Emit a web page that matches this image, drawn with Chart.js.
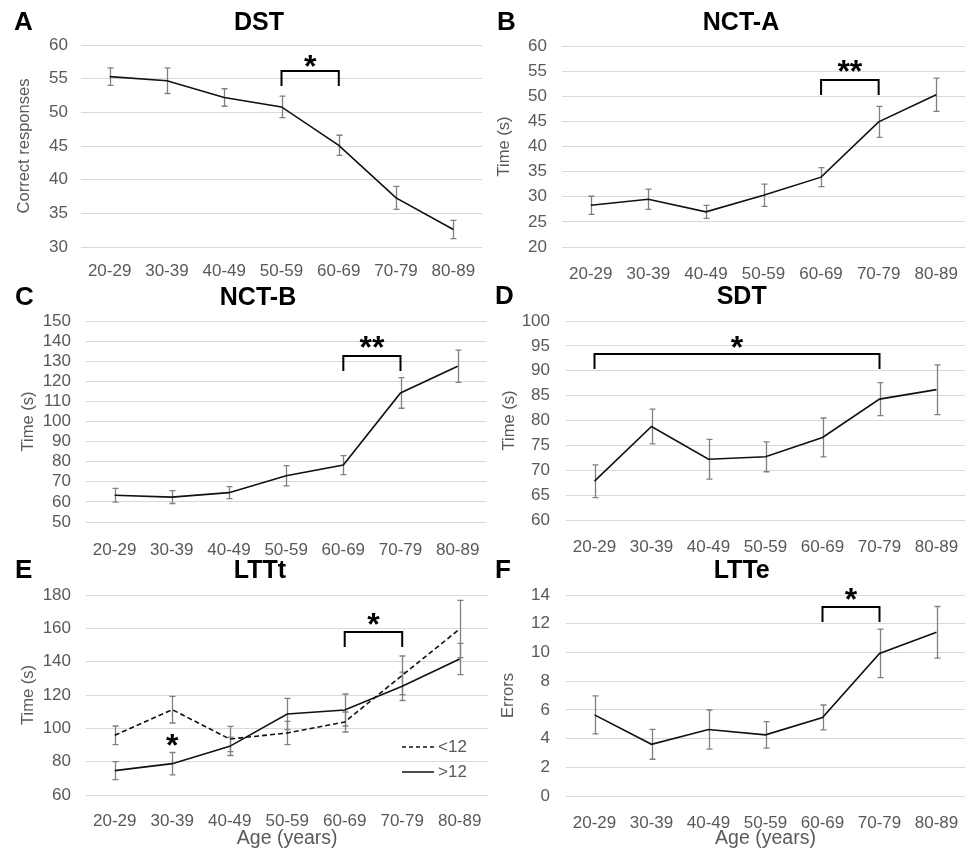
<!DOCTYPE html>
<html>
<head>
<meta charset="utf-8">
<script src="https://cdn.jsdelivr.net/npm/chart.js@4.4.0/dist/chart.umd.min.js"></script>
<style>
  body { margin: 0; background: #fff; }
  #wrap { position: relative; width: 971px; height: 851px; overflow: hidden; background: #fff; }
  .panel { position: absolute; }
  .panel canvas { display: block; }
</style>
</head>
<body>
<div id="wrap">
  <div class="panel" style="left:0;top:0"><canvas id="chartA" width="485" height="280"></canvas></div>
  <div class="panel" style="left:0;top:280px"><canvas id="chartC" width="490" height="280"></canvas></div>
  <div class="panel" style="left:0;top:560px"><canvas id="chartE" width="490" height="291"></canvas></div>
  <div class="panel" style="left:485px;top:0"><canvas id="chartB" width="486" height="280"></canvas></div>
  <div class="panel" style="left:485px;top:280px"><canvas id="chartD" width="486" height="280"></canvas></div>
  <div class="panel" style="left:485px;top:560px"><canvas id="chartF" width="486" height="291"></canvas></div>
</div>
<script>
// age groups (x axis)
const ageGroups = ['20-29', '30-39', '40-49', '50-59', '60-69', '70-79', '80-89'];

// A - DST
const dstMean = [55.3, 54.7, 52.2, 50.8, 45.1, 37.3, 32.6];
const dstErr  = [1.3, 1.9, 1.3, 1.6, 1.5, 1.7, 1.35];
// B - NCT-A
const nctaMean = [28.3, 29.5, 27.0, 30.3, 33.9, 44.9, 50.3];
const nctaErr  = [1.8, 2.0, 1.3, 2.2, 1.9, 3.1, 3.3];
// C - NCT-B
const nctbMean = [63.3, 62.4, 64.6, 73.0, 78.3, 114.2, 127.5];
const nctbErr  = [3.4, 3.2, 3.0, 5.0, 4.7, 7.6, 8.0];
// D - SDT
const sdtMean = [67.8, 78.8, 72.2, 72.7, 76.6, 84.3, 86.2];
const sdtErr  = [3.3, 3.5, 4.0, 3.0, 3.9, 3.3, 5.0];
// E - LTTt, by years of education
const lttLowMean  = [95.8, 111.2, 93.6, 97.2, 103.8, 131.8, 159.6];
const lttLowErr   = [5.6, 8.0, 7.6, 7.0, 6.0, 11.6, 17.2];
const lttHighMean = [74.6, 78.8, 89.2, 108.6, 111.0, 125.2, 141.6];
const lttHighErr  = [5.4, 6.7, 5.5, 9.4, 9.6, 8.5, 9.4];
// F - LTTe
const lttErrMean = [5.65, 3.6, 4.63, 4.26, 5.47, 9.93, 11.4];
const lttErrErr  = [1.32, 1.04, 1.36, 0.92, 0.87, 1.69, 1.8];

// y ticks [min, max, step]
const dstTicks  = [30, 60, 5];
const nctaTicks = [20, 60, 5];
const nctbTicks = [50, 150, 10];
const sdtTicks  = [60, 100, 5];
const lttTicks  = [60, 180, 20];
const lteTicks  = [0, 14, 2];

// significance brackets [from group, to group, level]
const dstSig  = [3, 4, 56.1];
const nctaSig = [4, 5, 53.3];
const nctbSig = [4, 5, 132.5];
const sdtSig  = [0, 5, 93.4];
const lttSig  = [4, 5, 157.6];
const lteSig  = [4, 5, 13.19];
// single star between the two LTTt lines [group, level]
const lttStar = [1, 93.2];

const FONT = '"Liberation Sans", Arial, Helvetica, sans-serif';
const GREY = '#595959';

const panelDecor = {
  id: 'panelDecor',
  beforeDatasetsDraw(chart) {
    const ctx = chart.ctx;
    const xs = chart.scales.x, ys = chart.scales.y;
    ctx.save();
    ctx.strokeStyle = '#808080';
    ctx.lineWidth = 1.3;
    chart.data.datasets.forEach(ds => {
      ds.data.forEach((v, i) => {
        const e = ds.errors[i];
        const px = Math.round(xs.getPixelForValue(i)) + 0.5;
        const t = ys.getPixelForValue(v + e);
        const b = ys.getPixelForValue(v - e);
        ctx.beginPath();
        ctx.moveTo(px, t); ctx.lineTo(px, b);
        ctx.moveTo(px - 3, t); ctx.lineTo(px + 3, t);
        ctx.moveTo(px - 3, b); ctx.lineTo(px + 3, b);
        ctx.stroke();
      });
    });
    ctx.restore();
  },
  afterDraw(chart, args, o) {
    const ctx = chart.ctx;
    const xs = chart.scales.x, ys = chart.scales.y;
    ctx.save();
    ctx.fillStyle = '#000';
    ctx.textBaseline = 'alphabetic';
    ctx.font = 'bold 26px ' + FONT;
    ctx.textAlign = 'left';
    ctx.fillText(o.letter, o.lx, o.base);
    ctx.font = 'bold 25px ' + FONT;
    ctx.textAlign = 'center';
    ctx.fillText(o.title, o.tx, o.base);

    function star(text, cx, cy) {
      ctx.font = 'bold 32px ' + FONT;
      ctx.textAlign = 'center';
      ctx.textBaseline = 'alphabetic';
      const m = ctx.measureText(text);
      const base = cy + (m.actualBoundingBoxAscent - m.actualBoundingBoxDescent) / 2;
      ctx.fillText(text, cx, base);
    }

    if (o.sig) {
      const xa = xs.getPixelForValue(o.sig[0]);
      const xb = xs.getPixelForValue(o.sig[1]);
      const yt = Math.round(ys.getPixelForValue(o.sig[2]));
      ctx.strokeStyle = '#000';
      ctx.lineWidth = 2;
      ctx.beginPath();
      ctx.moveTo(xa, yt + 15);
      ctx.lineTo(xa, yt);
      ctx.lineTo(xb, yt);
      ctx.lineTo(xb, yt + 15);
      ctx.stroke();
      star(o.stars, (xa + xb) / 2, yt - o.gap);
    }
    if (o.extraStar) {
      star('*', xs.getPixelForValue(o.extraStar[0]), ys.getPixelForValue(o.extraStar[1]));
    }
    if (o.legend) {
      o.legend.forEach(it => {
        ctx.strokeStyle = '#111';
        ctx.lineWidth = 1.5;
        ctx.setLineDash(it.dash);
        ctx.beginPath();
        ctx.moveTo(it.x, it.y);
        ctx.lineTo(it.x + 32, it.y);
        ctx.stroke();
        ctx.setLineDash([]);
        ctx.fillStyle = GREY;
        ctx.font = '17px ' + FONT;
        ctx.textAlign = 'left';
        ctx.textBaseline = 'middle';
        ctx.fillText(it.text, it.x + 36, it.y);
      });
    }
    ctx.restore();
  }
};

function makePanel(id, p) {
  const datasets = p.series.map(s => ({
    label: s.label,
    data: s.mean,
    errors: s.err,
    borderColor: '#111',
    borderWidth: 1.6,
    borderDash: s.dash || [],
    pointRadius: 0,
    tension: 0,
    fill: false
  }));
  new Chart(document.getElementById(id), {
    type: 'line',
    data: { labels: ageGroups, datasets: datasets },
    options: {
      responsive: false,
      animation: false,
      layout: { padding: { top: p.top, right: p.right, left: 0, bottom: 0 } },
      plugins: {
        legend: { display: false },
        tooltip: { enabled: false },
        panelDecor: p.decor
      },
      scales: {
        x: {
          offset: true,
          grid: { display: false },
          border: { display: false },
          ticks: { color: GREY, font: { family: FONT, size: 17 }, padding: p.xPad, maxRotation: 0, autoSkip: false },
          title: {
            display: !!p.xTitle,
            text: p.xTitle || '',
            color: GREY,
            font: { family: FONT, size: 19.5 },
            padding: { top: 0, bottom: 1 }
          },
          afterFit: function (scale) { scale.height = p.xHeight; }
        },
        y: {
          min: p.ticks[0],
          max: p.ticks[1],
          grid: { color: '#d9d9d9', lineWidth: 1, drawTicks: false },
          border: { display: false },
          ticks: { stepSize: p.ticks[2], color: GREY, font: { family: FONT, size: 17 }, padding: p.yPad, autoSkip: false },
          title: {
            display: true,
            text: p.yTitle,
            color: GREY,
            font: { family: FONT, size: 16.5 },
            padding: { top: p.yTitlePad, bottom: 0 }
          },
          afterFit: function (scale) { scale.width = p.yWidth; }
        }
      }
    },
    plugins: [panelDecor]
  });
}

makePanel('chartA', {
  series: [{ label: 'DST', mean: dstMean, err: dstErr }],
  ticks: dstTicks, yTitle: 'Correct responses',
  top: 45, right: 3, yWidth: 81, xHeight: 33, yPad: 13, xPad: 6.5, yTitlePad: 15,
  decor: { letter: 'A', title: 'DST', lx: 14, tx: 259, base: 30, sig: dstSig, stars: '*', gap: 10 }
});
makePanel('chartB', {
  series: [{ label: 'NCT-A', mean: nctaMean, err: nctaErr }],
  ticks: nctaTicks, yTitle: 'Time (s)',
  top: 46, right: 6, yWidth: 77, xHeight: 33, yPad: 15, xPad: 9, yTitlePad: 10,
  decor: { letter: 'B', title: 'NCT-A', lx: 12, tx: 256, base: 30, sig: nctaSig, stars: '**', gap: 14 }
});
makePanel('chartC', {
  series: [{ label: 'NCT-B', mean: nctbMean, err: nctbErr }],
  ticks: nctbTicks, yTitle: 'Time (s)',
  top: 41, right: 1, yWidth: 86, xHeight: 38, yPad: 15, xPad: 10.5, yTitlePad: 19,
  decor: { letter: 'C', title: 'NCT-B', lx: 15, tx: 258, base: 25, sig: nctbSig, stars: '**', gap: 14 }
});
makePanel('chartD', {
  series: [{ label: 'SDT', mean: sdtMean, err: sdtErr }],
  ticks: sdtTicks, yTitle: 'Time (s)',
  top: 41, right: 6, yWidth: 81, xHeight: 40, yPad: 16, xPad: 9.5, yTitlePad: 15,
  decor: { letter: 'D', title: 'SDT', lx: 10, tx: 256.7, base: 24, sig: sdtSig, stars: '*', gap: 12 }
});
makePanel('chartE', {
  series: [
    { label: '<12', mean: lttLowMean, err: lttLowErr, dash: [5, 3] },
    { label: '>12', mean: lttHighMean, err: lttHighErr }
  ],
  ticks: lttTicks, yTitle: 'Time (s)', xTitle: 'Age (years)',
  top: 35, right: 1, yWidth: 86, xHeight: 56, yPad: 15, xPad: 8.5, yTitlePad: 19,
  decor: {
    letter: 'E', title: 'LTTt', lx: 15, tx: 260, base: 18.3, sig: lttSig, stars: '*', gap: 13,
    extraStar: lttStar,
    legend: [
      { x: 402, y: 187, dash: [4, 3], text: '<12' },
      { x: 402, y: 212, dash: [], text: '>12' }
    ]
  }
});
makePanel('chartF', {
  series: [{ label: 'LTTe', mean: lttErrMean, err: lttErrErr }],
  ticks: lteTicks, yTitle: 'Errors', xTitle: 'Age (years)',
  top: 35, right: 6, yWidth: 81, xHeight: 55, yPad: 16, xPad: 9.6, yTitlePad: 14,
  decor: { letter: 'F', title: 'LTTe', lx: 10, tx: 256.7, base: 18.3, sig: lteSig, stars: '*', gap: 13 }
});
</script>
</body>
</html>
